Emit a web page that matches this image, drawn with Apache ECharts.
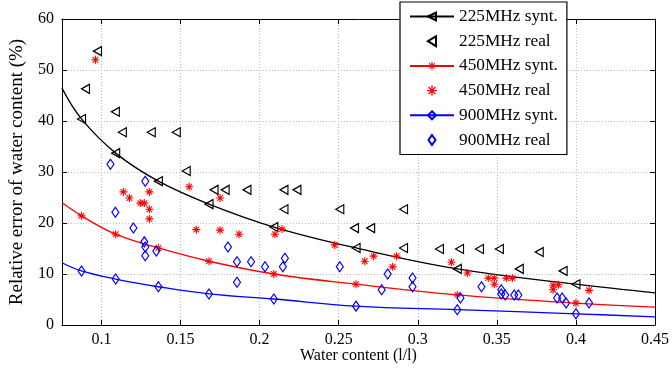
<!DOCTYPE html>
<html>
<head>
<meta charset="utf-8">
<script src="https://cdn.jsdelivr.net/npm/echarts@6/dist/echarts.min.js"></script>
<style>
  html, body { margin: 0; padding: 0; background: #fff; }
  #chart { width: 672px; height: 376px; }
</style>
</head>
<body>
<div id="chart"></div>
<script>
// Axis ticks
const xTicks = [0.1, 0.15, 0.2, 0.25, 0.3, 0.35, 0.4, 0.45];
const xRange = [0.075, 0.45];
const yRange = [0, 60];

// Synthetic-data points (markers on the fitted curves)
const synthX = [0.0874, 0.109, 0.136, 0.168, 0.209, 0.261, 0.325, 0.4];
const synt225 = [40.4, 33.7, 28.2, 23.7, 19.2, 15.1, 11.0, 8.0];
const synt450 = [21.4, 17.8, 15.1, 12.5, 10.0, 8.0, 5.9, 4.3];
const synt900 = [10.6, 9.0, 7.5, 6.1, 5.1, 3.7, 3.0, 2.2];
// Curve values at the left and right edges of the plot
const ends225 = [46.5, 6.3];
const ends450 = [24.0, 3.5];
const ends900 = [12.2, 1.6];

// Field measurements
const real225X = [0.0975, 0.0899, 0.1088, 0.1132, 0.1315, 0.1473, 0.1536, 0.1712, 0.1782, 0.192, 0.2154, 0.2236, 0.2154, 0.2507, 0.291, 0.26, 0.2702, 0.291, 0.3137, 0.3264, 0.339, 0.3516, 0.3768, 0.3642, 0.3919];
const real225Y = [53.7, 46.3, 41.8, 37.8, 37.8, 37.8, 30.2, 26.5, 26.5, 26.5, 26.5, 26.5, 22.7, 22.7, 22.7, 19.0, 19.0, 15.1, 14.9, 14.9, 14.9, 14.9, 14.3, 11.0, 10.6];

const real450X = [0.0962, 0.1139, 0.1177, 0.1303, 0.1246, 0.1271, 0.1303, 0.1303, 0.1555, 0.175, 0.16, 0.175, 0.187, 0.2097, 0.2141, 0.2475, 0.2665, 0.2721, 0.2866, 0.2841, 0.3213, 0.3314, 0.3446, 0.3484, 0.3484, 0.356, 0.3598, 0.3856, 0.3856, 0.389, 0.4083];
const real450Y = [52.0, 26.1, 24.9, 26.1, 23.9, 23.9, 22.7, 20.8, 27.1, 24.9, 18.7, 18.6, 17.8, 17.8, 18.8, 15.7, 12.5, 13.5, 13.5, 11.4, 12.3, 10.2, 9.2, 9.2, 8.0, 9.2, 9.2, 7.8, 6.9, 7.9, 6.8];

const real900X = [0.1057, 0.1277, 0.1088, 0.1202, 0.1271, 0.1277, 0.1277, 0.1347, 0.18, 0.1857, 0.1946, 0.1857, 0.2034, 0.2147, 0.216, 0.2507, 0.281, 0.2772, 0.2967, 0.2967, 0.327, 0.3403, 0.3528, 0.3528, 0.3553, 0.361, 0.3636, 0.3881, 0.3913, 0.3938, 0.4083];
const real900Y = [31.5, 28.2, 22.1, 19.0, 16.3, 15.3, 13.6, 14.5, 15.3, 12.4, 12.4, 8.4, 11.4, 11.4, 13.1, 11.4, 10.0, 6.9, 9.2, 7.5, 5.3, 7.5, 6.9, 6.1, 5.9, 5.9, 5.9, 5.3, 5.3, 4.3, 4.3];

const seriesNames = ['225MHz synt.', '225MHz real', '450MHz synt.', '450MHz real', '900MHz synt.', '900MHz real'];

// Marker shapes
const triLeft = 'path://M0,5 L8,0 L8,10 Z';
const diamond = 'path://M3.5,0 L7,5 L3.5,10 L0,5 Z';
const asterisk = 'path://M0,4.3 L10,4.3 L10,5.7 L0,5.7 Z M4.3,0 L5.7,0 L5.7,10 L4.3,10 Z M1,1.9 L1.9,1 L9,8.1 L8.1,9 Z M8.1,1 L9,1.9 L1.9,9 L1,8.1 Z';

const FONT = '"Liberation Serif", "Times New Roman", serif';
const INK = '#000';

function curve(xs, ys, ends) {
  const pts = xs.map((x, i) => [x, ys[i]]);
  return [{ value: [xRange[0], ends[0]], symbol: 'none' }]
    .concat(pts)
    .concat([{ value: [xRange[1], ends[1]], symbol: 'none' }]);
}
function pairs(xs, ys) { return xs.map((x, i) => [x, ys[i]]); }

function markerStyle(color, symbol) {
  const filled = symbol === asterisk;
  return {
    color: filled ? color : 'rgba(255,255,255,0)',
    borderColor: color,
    borderWidth: filled ? 0 : 1.2,
    opacity: 1
  };
}

function syntSeries(name, color, data, symbol, size) {
  return {
    name, type: 'line', data, smooth: 0.4,
    symbol, symbolSize: size, showAllSymbol: true,
    lineStyle: { color, width: 1.3 },
    itemStyle: markerStyle(color, symbol),
    emphasis: { disabled: true }, animation: false, z: 3
  };
}
function realSeries(name, color, data, symbol, size) {
  return {
    name, type: 'scatter', data, symbol, symbolSize: size,
    itemStyle: markerStyle(color, symbol),
    emphasis: { disabled: true }, animation: false, z: 4
  };
}

const axisText = { fontFamily: FONT, fontSize: 16, color: INK };

const option = {
  backgroundColor: '#fff',
  animation: false,
  grid: { left: 60, right: 17, top: 19, bottom: 51 },
  legend: {
    orient: 'vertical', left: 400, top: 2,
    data: seriesNames,
    itemWidth: 44, itemHeight: 10, itemGap: 7.7,
    padding: [6, 9, 6, 9],
    backgroundColor: '#fff', borderColor: INK, borderWidth: 1.2,
    textStyle: { fontFamily: FONT, fontSize: 17.3, color: INK },
    selectedMode: false, z: 10
  },
  xAxis: [{
    type: 'value', min: xRange[0], max: xRange[1], position: 'bottom',
    name: 'Water content (l/l)', nameLocation: 'middle', nameGap: 23,
    nameMoveOverlap: false,
    nameTextStyle: axisText,
    axisLine: { show: true, onZero: false, lineStyle: { color: INK, width: 1 } },
    axisTick: { show: true, inside: true, length: 5, customValues: xTicks, lineStyle: { color: INK } },
    axisLabel: { customValues: xTicks, margin: 7, ...axisText, formatter: v => String(+v.toFixed(2)) },
    splitLine: { show: true, lineStyle: { color: '#b8b8b8', type: [1, 2], width: 1 } }
  }, {
    type: 'value', min: xRange[0], max: xRange[1], position: 'top',
    axisLine: { show: true, onZero: false, lineStyle: { color: INK, width: 1 } },
    axisTick: { show: true, inside: true, length: 5, customValues: xTicks, lineStyle: { color: INK } },
    axisLabel: { show: false, customValues: xTicks },
    splitLine: { show: false }
  }],
  yAxis: [{
    type: 'value', min: yRange[0], max: yRange[1], interval: 10, position: 'left',
    name: 'Relative error of water content (%)', nameLocation: 'middle', nameGap: 34,
    nameTextStyle: { fontFamily: FONT, fontSize: 19, color: INK },
    axisLine: { show: true, onZero: false, lineStyle: { color: INK, width: 1 } },
    axisTick: { show: true, inside: true, length: 5, lineStyle: { color: INK } },
    axisLabel: { margin: 8, ...axisText },
    splitLine: { show: true, lineStyle: { color: '#b8b8b8', type: [1, 2], width: 1 } }
  }, {
    type: 'value', min: yRange[0], max: yRange[1], interval: 10, position: 'right',
    axisLine: { show: true, onZero: false, lineStyle: { color: INK, width: 1 } },
    axisTick: { show: true, inside: true, length: 5, lineStyle: { color: INK } },
    axisLabel: { show: false },
    splitLine: { show: false }
  }],
  series: [
    syntSeries(seriesNames[0], '#000000', curve(synthX, synt225, ends225), triLeft, [8, 9]),
    realSeries(seriesNames[1], '#000000', pairs(real225X, real225Y), triLeft, [8, 9]),
    syntSeries(seriesNames[2], '#ff0000', curve(synthX, synt450, ends450), asterisk, 8),
    realSeries(seriesNames[3], '#ff0000', pairs(real450X, real450Y), asterisk, 8),
    syntSeries(seriesNames[4], '#0000ff', curve(synthX, synt900, ends900), diamond, [7, 10]),
    realSeries(seriesNames[5], '#0000ff', pairs(real900X, real900Y), diamond, [7, 10])
  ]
};

const chart = echarts.init(document.getElementById('chart'), null, { renderer: 'canvas' });
chart.setOption(option);
</script>
</body>
</html>
